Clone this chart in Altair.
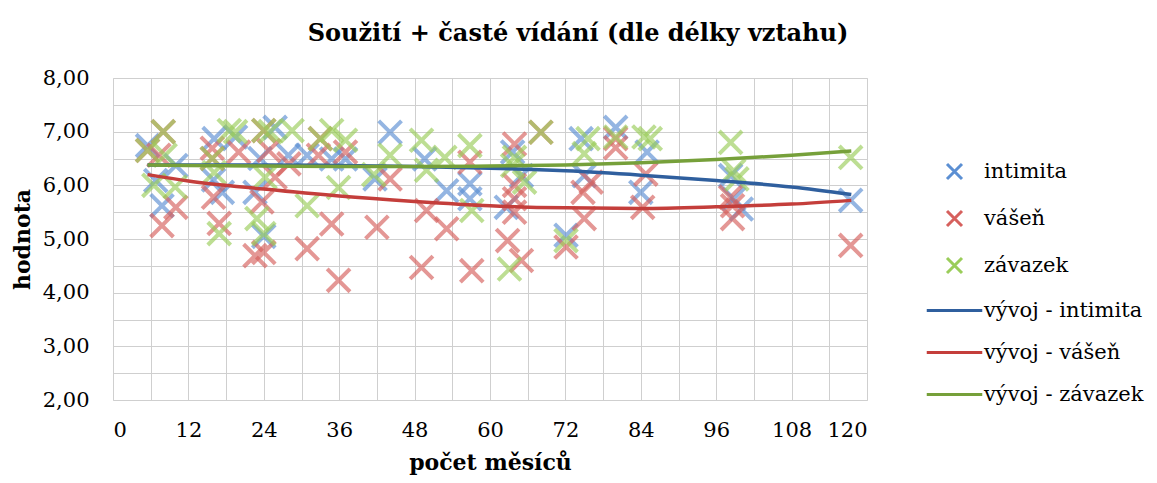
import altair as alt
import pandas as pd

TITLE = "Soužití + časté vídání (dle délky vztahu)"
NAMES = ["intimita", "vášeň", "závazek", "vývoj - intimita", "vývoj - vášeň", "vývoj - závazek"]
COLORS = ["#5b8fd3", "#d6605d", "#9acd5a", "#2f5f9e", "#c43e3b", "#76a03a"]

# scatter data (months, value)
intim_x = [5.5, 6.8, 10, 7.8, 16.1, 17.4, 16.0, 19.5, 25.8, 23.4, 27.9, 30.9, 34.8, 37.0, 22.6, 24.0,
           44.1, 41.7, 49.6, 53.1, 56.8, 56.8, 63.6, 65.0, 62.6, 72.1, 74.5, 75.0, 80.0, 85.0, 84.0,
           98.3, 98.8, 100.0, 117.4]
intim_y = [6.74, 6.09, 6.37, 5.62, 6.87, 5.87, 6.10, 6.90, 7.08, 6.50, 6.56, 6.56, 6.49, 6.49, 5.87, 5.05,
           6.99, 6.12, 6.49, 5.90, 6.03, 5.75, 6.62, 6.18, 5.59, 5.07, 6.87, 6.18, 7.08, 6.62, 5.87,
           6.18, 5.75, 5.56, 5.72]

vasen_x = [8.0, 5.5, 7.3, 10.0, 7.8, 15.8, 15.8, 16.0, 16.9, 20.0, 24.0, 24.8, 28.0, 32.7, 33.0, 37.0,
           25.8, 23.7, 22.6, 24.0, 30.9, 34.8, 35.9, 44.1, 42.0, 49.9, 53.1, 49.1, 56.8, 57.1, 68.1,
           63.9, 63.9, 63.9, 63.9, 62.8, 65.0, 72.1, 76.1, 74.8, 75.0, 80.0, 80.0, 84.8, 84.3, 98.3,
           98.6, 98.6, 117.4]
vasen_y = [7.00, 6.65, 6.56, 5.59, 5.25, 6.69, 6.50, 5.78, 5.29, 6.62, 7.02, 6.65, 6.40, 6.56, 6.87, 6.62,
           6.15, 5.69, 4.69, 4.75, 4.82, 5.28, 4.23, 6.12, 5.22, 5.53, 5.19, 4.47, 6.43, 4.41, 6.99,
           6.77, 6.00, 5.75, 5.50, 4.97, 4.60, 4.85, 6.06, 5.87, 5.38, 6.87, 6.70, 6.21, 5.59, 5.78,
           5.62, 5.38, 4.88]

zav_x = [8.0, 5.5, 8.3, 6.5, 9.9, 15.8, 16.1, 16.9, 18.5, 19.5, 24.0, 25.0, 28.5, 33.0, 34.8, 37.0,
         24.2, 35.9, 30.9, 22.9, 24.0, 44.1, 41.5, 49.1, 49.9, 52.8, 56.8, 57.1, 68.1, 63.9, 63.6,
         65.5, 63.1, 72.1, 75.6, 75.0, 80.0, 84.5, 85.5, 98.3, 98.8, 99.3, 117.4]
zav_y = [7.00, 6.65, 6.56, 6.00, 5.97, 6.50, 6.24, 5.10, 7.02, 7.00, 7.02, 7.00, 7.02, 6.87, 7.02, 6.84,
         6.15, 5.96, 5.62, 5.38, 5.10, 6.56, 6.20, 6.84, 6.28, 6.52, 6.74, 5.53, 6.99, 6.52, 6.37,
         6.06, 4.44, 4.97, 6.87, 6.59, 6.90, 6.90, 6.87, 6.80, 6.27, 6.12, 6.52]

# trend lines
trend_x = [5.5, 12, 24, 36, 48, 60, 72, 84, 96, 108, 117.5]
trend_int = [6.38, 6.38, 6.38, 6.37, 6.35, 6.32, 6.27, 6.19, 6.09, 5.97, 5.83]
trend_vas = [6.20, 6.08, 5.93, 5.80, 5.70, 5.62, 5.58, 5.57, 5.60, 5.65, 5.72]
trend_zav = [6.38, 6.37, 6.36, 6.35, 6.35, 6.36, 6.38, 6.42, 6.48, 6.56, 6.64]

rows = []
for name, xs, ys in [(NAMES[0], intim_x, intim_y), (NAMES[1], vasen_x, vasen_y), (NAMES[2], zav_x, zav_y)]:
    for a, b in zip(xs, ys):
        rows.append({"x": a, "y": b, "series": name})
pts = pd.DataFrame(rows)

trows = []
for name, ys in [(NAMES[3], trend_int), (NAMES[4], trend_vas), (NAMES[5], trend_zav)]:
    for a, b in zip(trend_x, ys):
        trows.append({"x": a, "y": b, "series": name})
tr = pd.DataFrame(trows)

X_PATH = "M-1,-1L1,1M1,-1L-1,1"
LINE_PATH = "M-3.7,0L3.7,0"
SHAPES = [X_PATH] * 3 + [LINE_PATH] * 3

FONT = "DejaVu Serif"

xaxis = alt.Axis(values=list(range(0, 121, 6)),
                 labelExpr="datum.value % 12 == 0 ? datum.label : ''",
                 grid=True, gridColor="#cfcfcf", ticks=False, domain=False,
                 labelFont=FONT, labelFontSize=21, labelColor="#000", labelPadding=19,
                 titleFont=FONT, titleFontSize=22, titleFontWeight="bold", titleColor="#000",
                 titlePadding=12)
yaxis = alt.Axis(values=[2 + 0.5 * i for i in range(13)],
                 labelExpr="datum.value % 1 == 0 ? replace(format(datum.value, '.2f'), '.', ',') : ''",
                 grid=True, gridColor="#cfcfcf", ticks=False, domain=False,
                 labelFont=FONT, labelFontSize=21, labelColor="#000", labelPadding=24,
                 titleFont=FONT, titleFontSize=22, titleFontWeight="bold", titleColor="#000",
                 titlePadding=8)

xenc = alt.X("x:Q", scale=alt.Scale(domain=[0, 120], nice=False), axis=xaxis, title="počet měsíců")
yenc = alt.Y("y:Q", scale=alt.Scale(domain=[2, 8], nice=False), axis=yaxis, title="hodnota")

legend = alt.Legend(title=None, orient="none", legendX=831, legendY=83, padding=0,
                    labelFont=FONT, labelFontSize=21, labelColor="#000",
                    symbolSize=225, symbolStrokeWidth=3, labelOffset=19, rowPadding=20,
                    symbolOpacity=1)

cscale = alt.Scale(domain=NAMES, range=COLORS)
sscale = alt.Scale(domain=NAMES, range=SHAPES)

scatter = alt.Chart(pts).mark_point(filled=False, size=520, strokeWidth=4, opacity=0.65).encode(
    x=xenc, y=yenc,
    color=alt.Color("series:N", scale=cscale, legend=legend, sort=NAMES),
    shape=alt.Shape("series:N", scale=sscale, legend=legend, sort=NAMES),
)

lines = alt.Chart(tr).mark_line(strokeWidth=3.5, interpolate="monotone").encode(
    x=xenc, y=yenc,
    color=alt.Color("series:N", scale=cscale, legend=legend, sort=NAMES),
    detail="series:N",
)

chart = alt.layer(scatter, lines).properties(
    width=754, height=322,
    title=alt.Title(TITLE, font=FONT, fontSize=24, fontWeight="bold", color="#000",
                    anchor="middle", dx=88, dy=32, offset=34, baseline="alphabetic"),
    padding={"left": 105, "top": 70, "right": 282, "bottom": 75},
    autosize=alt.AutoSizeParams(type="none"),
).configure_view(stroke="#111", strokeWidth=1).configure(background="white")

chart.save("out.html", embed_options={"renderer": "svg", "actions": False})
